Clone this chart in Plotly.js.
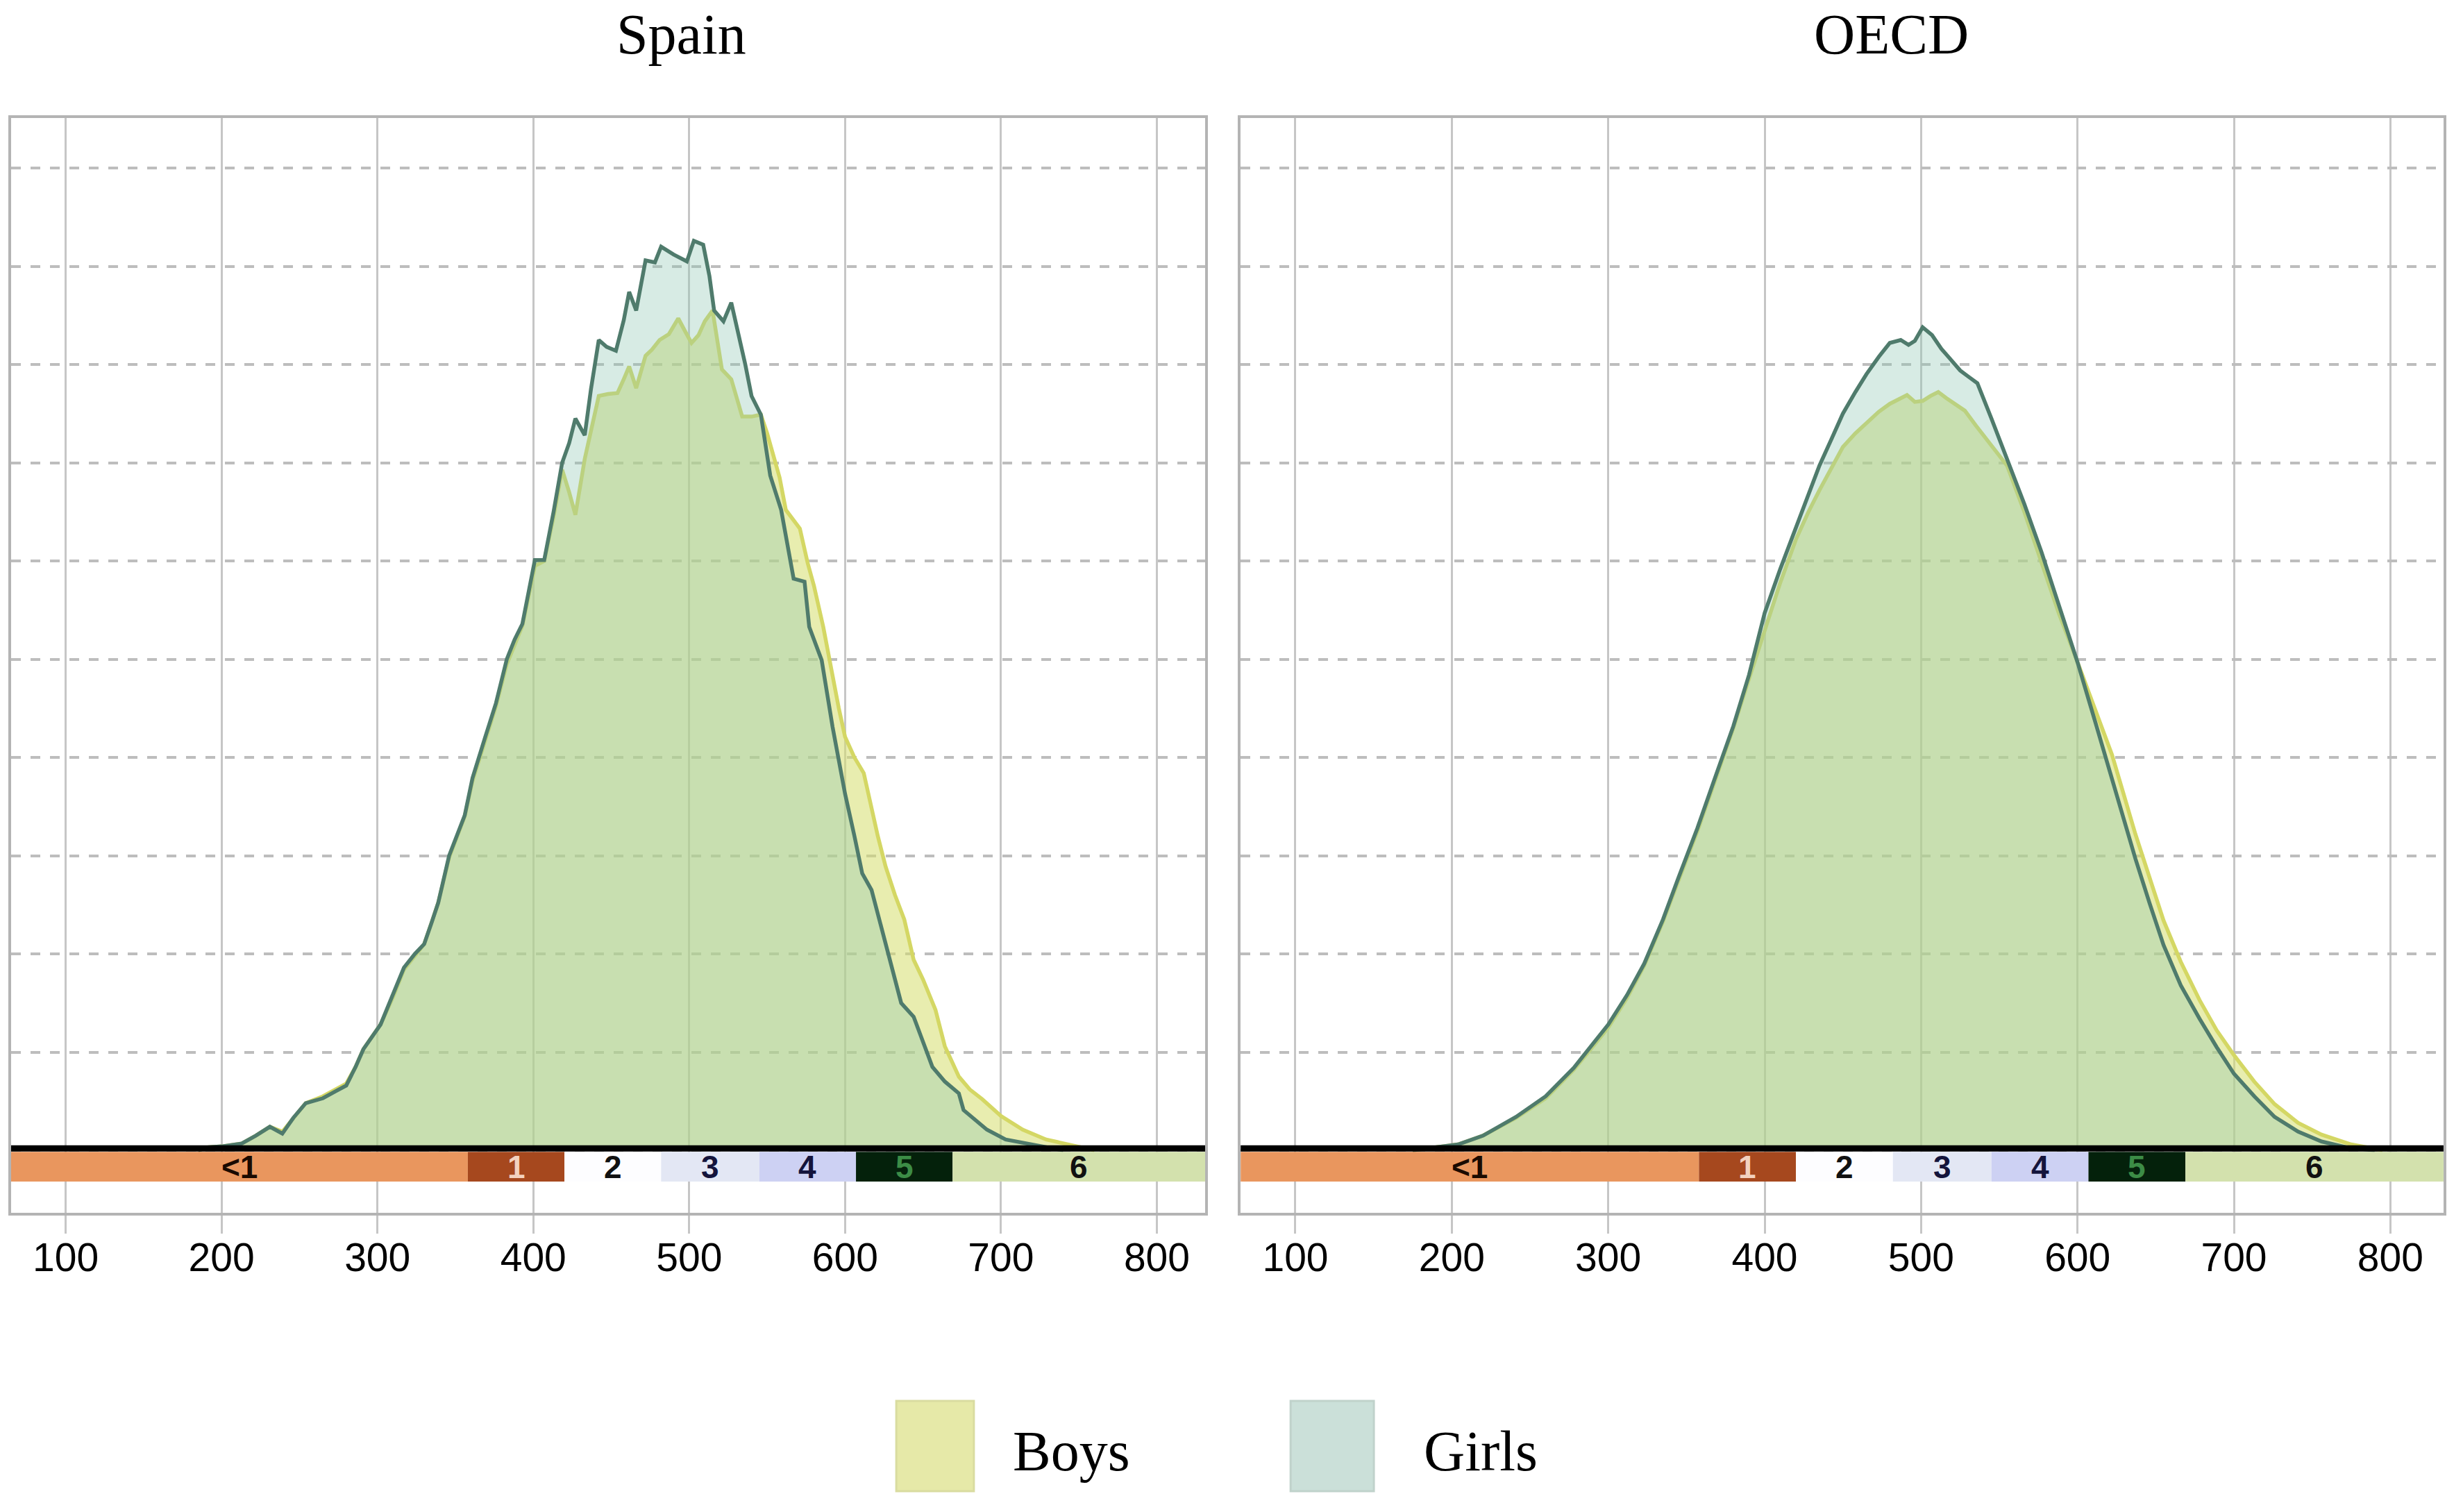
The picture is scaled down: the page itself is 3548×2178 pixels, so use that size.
<!DOCTYPE html>
<html>
<head>
<meta charset="utf-8">
<script src="https://cdn.plot.ly/plotly-3.0.1.min.js"></script>
<style>
  html, body { margin: 0; padding: 0; background: #ffffff; }
  #myPlot { width: 3548px; height: 2178px; }
</style>
</head>
<body>
<div id="myPlot"></div>
<script>
// Spain score distributions
var spainGirlsX = [185, 191, 200, 213, 222, 231, 239, 246, 254, 265, 273, 280, 286, 291, 302, 310, 317, 324, 330, 335, 339, 346, 351, 356, 361, 365, 369, 376, 383, 388, 393, 401, 407, 413, 418.5, 423, 427, 433, 437, 442, 447, 453, 458, 461.5, 466, 472, 478, 482, 490, 498.5, 503, 509, 513, 516, 522, 527, 531, 536, 540, 546, 552, 559, 567, 574, 577, 585, 592, 600, 606, 611, 617, 621, 626, 631, 636, 644, 650, 656, 664, 673, 676, 684, 691, 703, 721, 740];
var spainGirlsY = [0, 0.03, 0.04, 0.07, 0.15, 0.24, 0.17, 0.33, 0.48, 0.53, 0.6, 0.66, 0.85, 1.03, 1.28, 1.58, 1.86, 2.0, 2.1, 2.33, 2.52, 3.0, 3.2, 3.41, 3.79, 3.98, 4.2, 4.55, 5.0, 5.2, 5.36, 6.01, 6.01, 6.5, 7.0, 7.2, 7.45, 7.28, 7.75, 8.25, 8.18, 8.14, 8.45, 8.74, 8.55, 9.06, 9.04, 9.2, 9.12, 9.05, 9.26, 9.22, 8.9, 8.55, 8.44, 8.63, 8.36, 8.0, 7.68, 7.49, 6.87, 6.52, 5.82, 5.79, 5.33, 4.99, 4.31, 3.63, 3.2, 2.82, 2.65, 2.4, 2.11, 1.8, 1.5, 1.36, 1.1, 0.85, 0.7, 0.58, 0.41, 0.3, 0.21, 0.11, 0.06, 0];

var spainBoysX = [185, 191, 200, 213, 222, 231, 239, 246, 254, 265, 273, 280, 286, 291, 302, 310, 317, 324, 330, 335, 339, 346, 351, 356, 361, 365, 369, 376, 383, 388, 393, 401, 407, 413, 418.5, 423, 427, 433, 438, 442, 448, 454, 458, 461.5, 466, 472, 476, 481, 487, 493, 497, 501.5, 506, 510, 515, 518, 521, 527, 531, 534, 540, 546, 550, 553, 558, 562, 567, 571, 576, 580, 586, 591, 596, 600, 606, 612, 617, 621, 626, 632, 638, 644, 650, 658, 664, 673, 680, 688, 700, 714, 729, 744, 760];
var spainBoysY = [0, 0.03, 0.04, 0.07, 0.15, 0.24, 0.19, 0.33, 0.48, 0.55, 0.62, 0.68, 0.85, 1.03, 1.28, 1.56, 1.84, 1.98, 2.1, 2.33, 2.52, 2.98, 3.18, 3.4, 3.76, 3.96, 4.18, 4.52, 4.95, 5.15, 5.34, 5.95, 6.0, 6.45, 6.93, 6.7, 6.47, 7.04, 7.4, 7.68, 7.7, 7.71, 7.85, 7.98, 7.76, 8.09, 8.15, 8.25, 8.31, 8.47, 8.35, 8.22, 8.3, 8.44, 8.55, 8.25, 7.95, 7.85, 7.65, 7.47, 7.47, 7.49, 7.3, 7.14, 6.85, 6.52, 6.42, 6.33, 5.98, 5.75, 5.33, 4.89, 4.5, 4.21, 4.0, 3.84, 3.46, 3.2, 2.89, 2.6, 2.35, 1.94, 1.74, 1.43, 1.06, 0.75, 0.62, 0.52, 0.35, 0.21, 0.11, 0.06, 0];

// OECD score distributions
var oecdGirlsX = [175, 190, 204, 220, 241, 260, 278, 300, 312, 323, 335, 345, 357, 368, 380, 390, 400, 410, 420, 428, 435, 443, 450, 458, 465, 473, 480, 487, 492, 496, 501, 507, 513, 519, 525, 530, 536, 545, 555, 566, 577, 588, 600, 611, 622, 630, 637, 646, 655, 666, 678, 689, 700, 713, 726, 741, 756, 772, 790];
var oecdGirlsY = [0, 0.03, 0.06, 0.15, 0.34, 0.55, 0.84, 1.28, 1.58, 1.9, 2.35, 2.78, 3.28, 3.78, 4.32, 4.84, 5.47, 5.92, 6.34, 6.65, 6.97, 7.25, 7.5, 7.72, 7.9, 8.08, 8.22, 8.25, 8.2, 8.24, 8.38, 8.3, 8.16, 8.05, 7.94, 7.88, 7.81, 7.45, 7.03, 6.58, 6.09, 5.55, 4.97, 4.38, 3.78, 3.35, 2.97, 2.52, 2.09, 1.68, 1.34, 1.05, 0.78, 0.55, 0.34, 0.19, 0.09, 0.03, 0];

var oecdBoysX = [175, 190, 204, 220, 241, 260, 278, 300, 312, 323, 335, 345, 357, 368, 380, 390, 400, 410, 420, 428, 435, 443, 450, 458, 465, 473, 480, 487, 491, 496, 501, 506, 511, 516, 522, 528, 535, 543, 549, 555, 566, 577, 588, 600, 611, 622, 630, 637, 646, 655, 666, 678, 689, 700, 713, 726, 741, 756, 775, 795];
var oecdBoysY = [0, 0.03, 0.06, 0.15, 0.33, 0.53, 0.82, 1.25, 1.55, 1.88, 2.33, 2.75, 3.25, 3.75, 4.3, 4.8, 5.3, 5.78, 6.22, 6.5, 6.72, 6.95, 7.16, 7.3, 7.4, 7.52, 7.6, 7.66, 7.69, 7.62, 7.63, 7.68, 7.72, 7.66, 7.6, 7.53, 7.38, 7.22, 7.1, 6.97, 6.5, 5.97, 5.47, 4.97, 4.5, 4.03, 3.6, 3.22, 2.78, 2.34, 1.92, 1.53, 1.22, 0.97, 0.7, 0.47, 0.28, 0.16, 0.06, 0];

// proficiency levels drawn in the band under the curves
var levelCuts = [358, 420, 482, 545, 607, 669];
var levelNames = ['<1', '1', '2', '3', '4', '5', '6'];
var levelColors = ['#e9965e', '#a6481e', '#fdfdff', '#e3e7f4', '#cdd1f3', '#04210b', '#d3e1ad'];
var levelTextColors = ['#1a0a00', '#f3d2bf', '#111111', '#14143c', '#14143c', '#3c8c46', '#111111'];

var panelTitles = ['Spain', 'OECD'];
var legendNames = ['Boys', 'Girls'];

var xRanges = [[65, 831], [65, 834]];
var yRange = [-0.636, 10.51];

var boysLine = '#d4d764';
var boysFill = 'rgba(214,222,110,0.55)';
var girlsLine = '#4f7b6c';
var girlsFill = 'rgba(141,198,178,0.35)';

function curve(x, y, lineColor, fillColor, xa, ya) {
    return {
        x: x,
        y: y,
        xaxis: xa,
        yaxis: ya,
        type: 'scatter',
        mode: 'lines',
        fill: 'tozeroy',
        fillcolor: fillColor,
        line: { color: lineColor, width: 5.5 },
        showlegend: false,
        hoverinfo: 'skip'
    };
}

function xAxis(domain, range, anchor) {
    return {
        domain: domain,
        range: range,
        anchor: anchor,
        tickmode: 'array',
        tickvals: [100, 200, 300, 400, 500, 600, 700, 800],
        ticktext: ['100', '200', '300', '400', '500', '600', '700', '800'],
        ticks: 'outside',
        ticklen: 26,
        tickwidth: 3,
        tickcolor: '#c6c6c6',
        ticklabelstandoff: -14,
        tickfont: { family: 'Liberation Sans, Arial', size: 57, color: '#000000' },
        showgrid: true,
        gridcolor: '#c6c6c6',
        gridwidth: 3,
        zeroline: false,
        showline: true,
        mirror: true,
        linecolor: '#b4b4b4',
        linewidth: 4,
        fixedrange: true
    };
}

function yAxis(anchor) {
    return {
        domain: [0.19789, 0.92195],
        range: yRange,
        anchor: anchor,
        tick0: 0,
        dtick: 1,
        showticklabels: false,
        ticks: '',
        showgrid: true,
        gridcolor: '#bdbdbd',
        gridwidth: 4,
        griddash: '14px,14px',
        zeroline: false,
        showline: true,
        mirror: true,
        linecolor: '#b4b4b4',
        linewidth: 4,
        fixedrange: true
    };
}

function bandShapes(xa, ya, range) {
    var shapes = [];
    var edges = [range[0]].concat(levelCuts).concat([range[1]]);
    for (var i = 0; i < levelNames.length; ++i) {
        shapes.push({
            type: 'rect', xref: xa, yref: ya, layer: 'above',
            x0: edges[i], x1: edges[i + 1], y0: -0.015, y1: -0.318,
            fillcolor: levelColors[i], line: { width: 0 }
        });
    }
    // thick black baseline
    shapes.push({
        type: 'line', xref: xa, yref: ya, layer: 'above',
        x0: range[0], x1: range[1], y0: 0.02, y1: 0.02,
        line: { color: '#000000', width: 9 }
    });
    return shapes;
}

function bandLabels(xa, ya, range) {
    var notes = [];
    var edges = [range[0]].concat(levelCuts).concat([range[1]]);
    for (var i = 0; i < levelNames.length; ++i) {
        notes.push({
            xref: xa, yref: ya,
            x: (edges[i] + edges[i + 1]) / 2, y: -0.17,
            text: '<b>' + levelNames[i] + '</b>',
            showarrow: false,
            font: { family: 'Liberation Sans, Arial', size: 46, color: levelTextColors[i] }
        });
    }
    return notes;
}

function plot() {
    var data = [
        curve(spainBoysX, spainBoysY, boysLine, boysFill, 'x', 'y'),
        curve(spainGirlsX, spainGirlsY, girlsLine, girlsFill, 'x', 'y'),
        curve(oecdBoysX, oecdBoysY, boysLine, boysFill, 'x2', 'y2'),
        curve(oecdGirlsX, oecdGirlsY, girlsLine, girlsFill, 'x2', 'y2')
    ];

    var shapes = bandShapes('x', 'y', xRanges[0]).concat(bandShapes('x2', 'y2', xRanges[1]));
    // legend swatches
    shapes.push({
        type: 'rect', xref: 'paper', yref: 'paper',
        x0: 0.3639, x1: 0.3954, y0: 0.01377, y1: 0.07346,
        fillcolor: '#e6e9a8', line: { color: '#d9dca0', width: 3 }
    });
    shapes.push({
        type: 'rect', xref: 'paper', yref: 'paper',
        x0: 0.5240, x1: 0.5578, y0: 0.01377, y1: 0.07346,
        fillcolor: '#cbe0d9', line: { color: '#c0d2cb', width: 3 }
    });

    var annotations = bandLabels('x', 'y', xRanges[0]).concat(bandLabels('x2', 'y2', xRanges[1]));
    var titleX = [0.2765, 0.7678];
    for (var i = 0; i < panelTitles.length; ++i) {
        annotations.push({
            xref: 'paper', yref: 'paper', x: titleX[i], y: 0.9775,
            xanchor: 'center', yanchor: 'middle',
            text: panelTitles[i], showarrow: false,
            font: { family: 'Liberation Serif, Times New Roman, serif', size: 82, color: '#000000' }
        });
    }
    var legendX = [0.4107, 0.5775];
    for (var j = 0; j < legendNames.length; ++j) {
        annotations.push({
            xref: 'paper', yref: 'paper', x: legendX[j], y: 0.0404,
            xanchor: 'left', yanchor: 'middle',
            text: legendNames[j], showarrow: false,
            font: { family: 'Liberation Serif, Times New Roman, serif', size: 82, color: '#000000' }
        });
    }

    var layout = {
        width: 3548,
        height: 2178,
        margin: { l: 0, r: 0, t: 0, b: 0 },
        paper_bgcolor: '#ffffff',
        plot_bgcolor: '#ffffff',
        showlegend: false,
        xaxis: xAxis([0.00451, 0.4893], xRanges[0], 'y'),
        yaxis: yAxis('x'),
        xaxis2: xAxis([0.5037, 0.9921], xRanges[1], 'y2'),
        yaxis2: yAxis('x2'),
        shapes: shapes,
        annotations: annotations
    };

    var config = { displayModeBar: false, staticPlot: true };
    Plotly.newPlot('myPlot', data, layout, config);
}

plot();
</script>
</body>
</html>
